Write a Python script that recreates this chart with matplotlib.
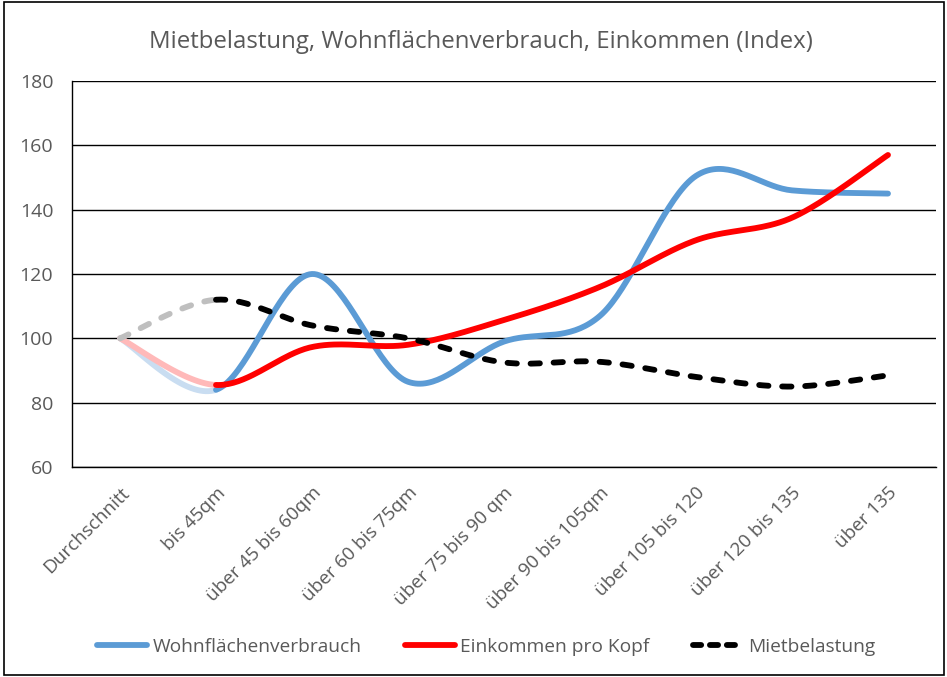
import numpy as np
import matplotlib
matplotlib.use("Agg")
import matplotlib.pyplot as plt
from matplotlib.lines import Line2D
from matplotlib.patches import Rectangle

categories = ["Durchschnitt", "bis 45qm", "über 45 bis 60qm", "über 60 bis 75qm",
              "über 75 bis 90 qm", "über 90 bis 105qm", "über 105 bis 120",
              "über 120 bis 135", "über 135"]
wohnflaeche = [100, 84, 120, 86.5, 99, 107, 150.5, 146, 145]
einkommen = [100, 85.5, 97.3, 98, 105.7, 116, 130.5, 137.5, 157]
miete = [100, 112, 104, 100, 92.5, 92.7, 88, 85, 88.5]
yticks = [60, 80, 100, 120, 140, 160, 180]

title = "Mietbelastung, Wohnflächenverbrauch, Einkommen (Index)"
names = ["Wohnflächenverbrauch", "Einkommen pro Kopf", "Mietbelastung"]

FONT = ["Open Sans", "DejaVu Sans"]
plt.rcParams['font.family'] = FONT
GRAY = "#595959"


def smooth_segments(y):
    x = np.arange(len(y), dtype=float)
    y = np.asarray(y, dtype=float)
    P = np.column_stack([x, y])
    segs = []
    t = np.linspace(0, 1, 40)[:, None]
    n = len(P)
    for i in range(n - 1):
        p0 = P[max(i - 1, 0)]
        p1 = P[i]
        p2 = P[i + 1]
        p3 = P[min(i + 2, n - 1)]
        c1 = p1 + (p2 - p0) / 6.0
        c2 = p2 - (p3 - p1) / 6.0
        b = ((1 - t) ** 3) * p1 + 3 * ((1 - t) ** 2) * t * c1 + 3 * (1 - t) * t ** 2 * c2 + t ** 3 * p2
        segs.append(b)
    return segs


fig = plt.figure(figsize=(9.47, 6.77), dpi=100)
ax = fig.add_axes([72 / 947, 1 - 467 / 677, (936 - 72) / 947, (467 - 81) / 677])

series = [
    (wohnflaeche, "#5B9BD5", "#C9DDF1", "-"),
    (einkommen, "#FF0000", "#FFB9B9", "-"),
    (miete, "#000000", "#BFBFBF", "--"),
]
lw = 4.2
for vals, col, light, ls in series:
    segs = smooth_segments(vals)
    first = segs[0]
    rest = np.vstack(segs[1:])
    kw = dict(lw=lw, solid_capstyle='round', dash_capstyle='round', zorder=3)
    if ls == "--":
        kw.update(dashes=(1.6, 2.35))
    ax.plot(first[:, 0], first[:, 1], color=light, **kw)
    ax.plot(rest[:, 0], rest[:, 1], color=col, **kw)

ax.set_xlim(-0.5, len(categories) - 0.5)
ax.set_ylim(60, 180)
ax.set_yticks(yticks)
ax.set_xticks(range(len(categories)))
ax.set_xticklabels(categories, rotation=45, ha='right', va='top', rotation_mode='anchor',
                   color=GRAY, fontsize=13.6)
ax.tick_params(axis='both', length=0, labelcolor=GRAY)
ax.tick_params(axis='y', pad=13.5, labelsize=14)
ax.tick_params(axis='x', pad=12)
ax.grid(axis='y', color='#000000', lw=1.0, zorder=1)
for s in ['top', 'right']:
    ax.spines[s].set_visible(False)
ax.spines['left'].set_color('#000000')
ax.spines['bottom'].set_color('#000000')
ax.spines['left'].set_linewidth(1.0)
ax.spines['bottom'].set_linewidth(1.0)

fig.text(481 / 947, 1 - 42 / 677, title, ha='center', va='center', fontsize=17.3, color=GRAY)

handles = [
    Line2D([], [], color="#5B9BD5", lw=lw, solid_capstyle='round'),
    Line2D([], [], color="#FF0000", lw=lw, solid_capstyle='round'),
    Line2D([], [], color="#000000", lw=lw, dashes=(1.4, 1.5), dash_capstyle='round'),
]
fig.legend(handles, names, loc='center', bbox_to_anchor=(486.5 / 947, 1 - 647 / 677), ncol=3,
           frameon=False, fontsize=13.8, labelcolor=GRAY, handlelength=2.6, handletextpad=0.3,
           columnspacing=2.25)

fig.patches.append(Rectangle((0.004, 0.003), 0.993, 0.994, transform=fig.transFigure,
                             fill=False, edgecolor='#000000', lw=1.2))

fig.savefig("out.png", dpi=100)
